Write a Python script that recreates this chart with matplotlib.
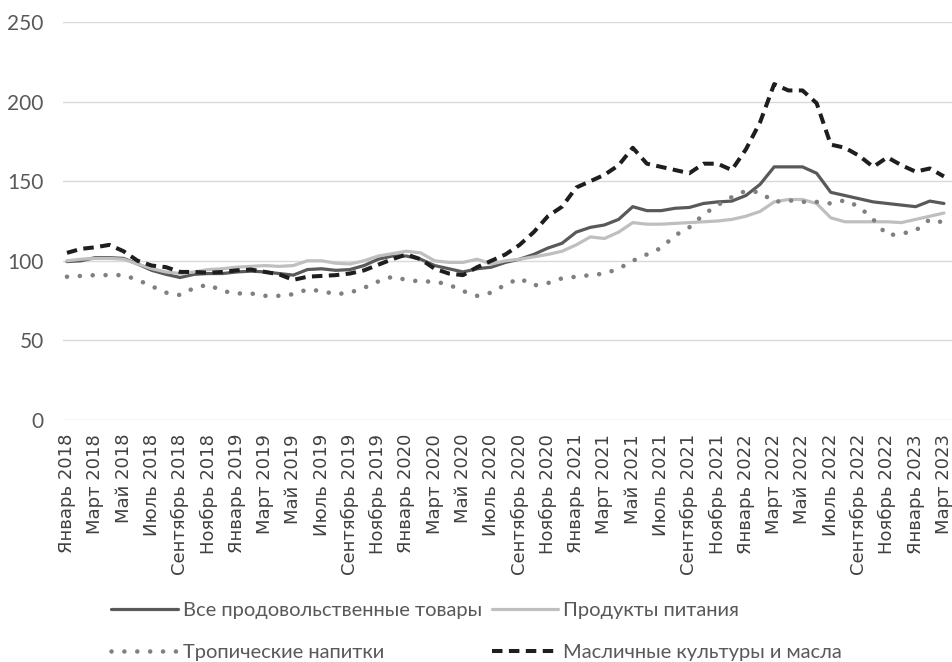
import matplotlib
matplotlib.use("Agg")
import matplotlib.pyplot as plt
import numpy as np

# months Jan 2018 .. Mar 2023
month_names = ["Январь", "Февраль", "Март", "Апрель", "Май", "Июнь",
               "Июль", "Август", "Сентябрь", "Октябрь", "Ноябрь", "Декабрь"]
months = [f"{month_names[i % 12]} {2018 + i // 12}" for i in range(63)]

all_food = [99.5, 100, 102, 102, 101.5, 98, 94, 91.5, 89.5, 91.5, 92, 92,
            93, 93.5, 93, 92, 91, 94.5, 95, 94, 94.5, 97, 101, 103,
            103, 101, 97, 95, 93, 95, 96, 99, 101, 104, 108, 111,
            118, 121, 122.5, 126, 134, 131.5, 131.5, 133, 133.5, 136, 137, 137.5,
            141, 148, 159, 159, 159, 155, 143, 141, 139, 137, 136, 135,
            134, 137.5, 136]
food = [100, 101, 101.5, 101.5, 101, 98, 95, 93, 92, 93, 94.5, 95,
        96, 96.5, 97, 96.5, 97, 100, 100, 98.5, 98, 100, 103, 104.5,
        106, 105, 100, 99, 99, 101, 98, 100, 101, 102.5, 104, 106,
        110, 115, 114, 118, 124, 123, 123, 123.5, 124, 124.5, 125, 126,
        128, 131, 137, 138.5, 138.5, 136, 127, 124.5, 124.5, 124.5, 124.5, 124,
        126, 128, 130]
tropical = [90, 90.5, 91, 91, 91, 88, 84, 80, 78.5, 83, 85, 81,
            79.5, 79.5, 78, 78, 79, 82, 81, 79, 80, 83, 87, 90,
            88, 87, 87, 85, 81, 78, 80, 85, 89, 84.5, 86, 89,
            90, 91, 92, 95, 100, 104, 108, 116, 121, 129, 135, 140,
            144, 143, 137, 138, 137, 137, 136, 138, 134, 126, 116, 117,
            119, 126, 124]
oils = [105, 107.5, 108.5, 110, 106, 100, 97, 96, 93, 93, 92.5, 93,
        94, 94.5, 93, 91.5, 88, 90, 90.5, 91, 92, 94, 97.5, 101,
        104, 101, 95, 92, 91, 96, 100, 104, 110, 118, 128, 134,
        146, 150, 154, 160, 171, 161, 159, 157, 155, 161, 161, 157,
        170, 187, 211, 207, 207, 199, 173, 171, 166, 159, 165, 160,
        156, 158, 153]

labels = ["Все продовольственные товары", "Продукты питания",
          "Тропические напитки", "Масличные культуры и масла"]

x = np.arange(len(months))

fig = plt.figure(figsize=(9.52, 6.62), dpi=100)
ax = fig.add_axes([63 / 952, 1 - 420 / 662, 889 / 952, 398 / 662])

l1, = ax.plot(x, all_food, color="#595959", lw=2.3, solid_capstyle="round")
l2, = ax.plot(x, food, color="#bfbfbf", lw=2.3, solid_capstyle="round")
l3, = ax.plot(x, tropical, color="#808080", lw=3.3,
              linestyle=(0, (0.01, 2.8)), dash_capstyle="round")
l4, = ax.plot(x, oils, color="#1e1e1e", lw=2.9,
              linestyle=(0, (2.6, 1.6)), dash_capstyle="butt")

ax.set_xlim(-0.28, 62.57)
ax.set_ylim(0, 250)
ax.set_yticks(np.arange(0, 251, 50))
ax.set_xticks(x[::2])
ax.set_xticklabels(months[::2], rotation=90, fontsize=13,
                   color="#404040", family="DejaVu Sans")
for t in ax.get_yticklabels():
    t.set_family(["Lato", "DejaVu Sans"])
    t.set_fontsize(15)
    t.set_color("#595959")
ax.tick_params(axis="y", length=0, pad=14)
ax.tick_params(axis="x", length=0, pad=10)
ax.grid(axis="y", color="#d9d9d9", lw=1)
ax.set_axisbelow(True)
for s in ax.spines.values():
    s.set_visible(False)

leg = fig.legend([l1, l3, l2, l4], [labels[0], labels[2], labels[1], labels[3]],
                 ncol=2, loc="upper left", bbox_to_anchor=(93 / 952, 1 - 584 / 662),
                 frameon=False, handlelength=3.3, handletextpad=0.25,
                 columnspacing=0.5, labelspacing=1.25,
                 prop={"family": ["Lato", "DejaVu Sans"], "size": 14.5})
for t in leg.get_texts():
    t.set_color("#595959")

fig.savefig("out.png", dpi=100)
